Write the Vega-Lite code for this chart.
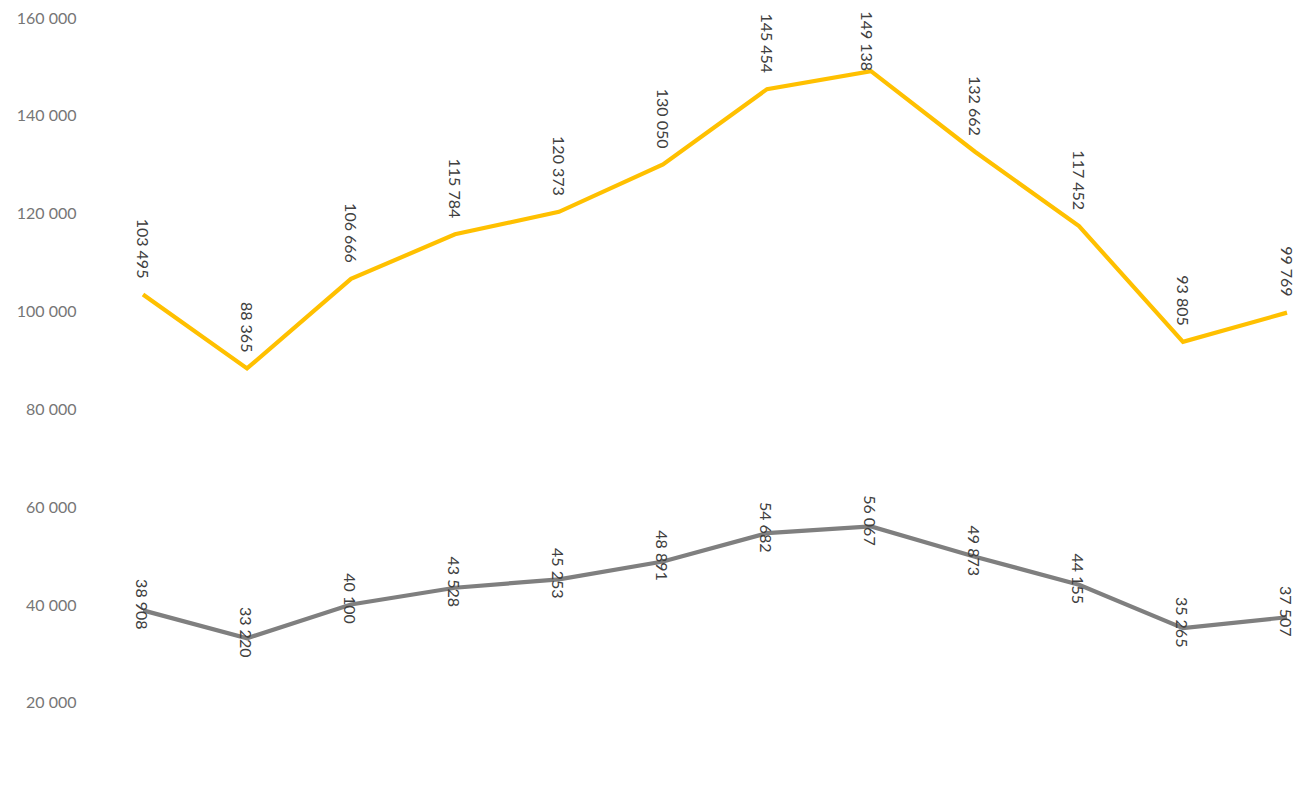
{
  "$schema": "https://vega.github.io/schema/vega-lite/v6.json",
  "width": 1216,
  "height": 777,
  "autosize": {"type": "none"},
  "padding": {"left": 91, "top": 18, "right": 0, "bottom": 0},
  "background": "white",
  "config": {
    "view": {"stroke": null},
    "locale": {"number": {"decimal": ",", "thousands": "\u00a0", "grouping": [3], "currency": ["", "\u00a0€"]}}
  },
  "data": {
    "values": [
      {"i": 1, "series": "A", "value": 103495},
      {"i": 2, "series": "A", "value": 88365},
      {"i": 3, "series": "A", "value": 106666},
      {"i": 4, "series": "A", "value": 115784},
      {"i": 5, "series": "A", "value": 120373},
      {"i": 6, "series": "A", "value": 130050},
      {"i": 7, "series": "A", "value": 145454},
      {"i": 8, "series": "A", "value": 149138},
      {"i": 9, "series": "A", "value": 132662},
      {"i": 10, "series": "A", "value": 117452},
      {"i": 11, "series": "A", "value": 93805},
      {"i": 12, "series": "A", "value": 99769},
      {"i": 1, "series": "B", "value": 38908},
      {"i": 2, "series": "B", "value": 33220},
      {"i": 3, "series": "B", "value": 40100},
      {"i": 4, "series": "B", "value": 43528},
      {"i": 5, "series": "B", "value": 45253},
      {"i": 6, "series": "B", "value": 48891},
      {"i": 7, "series": "B", "value": 54682},
      {"i": 8, "series": "B", "value": 56067},
      {"i": 9, "series": "B", "value": 49873},
      {"i": 10, "series": "B", "value": 44155},
      {"i": 11, "series": "B", "value": 35265},
      {"i": 12, "series": "B", "value": 37507}
    ]
  },
  "encoding": {
    "x": {"field": "i", "type": "quantitative", "scale": {"domain": [0.5, 12.1923], "nice": false, "zero": false}, "axis": null},
    "y": {
      "field": "value", "type": "quantitative",
      "scale": {"domain": [1165, 160000], "nice": false, "zero": false},
      "axis": {
        "values": [20000, 40000, 60000, 80000, 100000, 120000, 140000, 160000],
        "format": ",.0f", "domain": false, "ticks": false, "grid": false,
        "labelFont": "Lato", "labelFontSize": 16, "labelColor": "#767676", "labelPadding": 15, "title": null
      }
    },
    "color": {"field": "series", "type": "nominal", "scale": {"domain": ["A", "B"], "range": ["#FFC000", "#7F7F7F"]}, "legend": null}
  },
  "layer": [
    {"mark": {"type": "line", "strokeWidth": 4.2}},
    {
      "transform": [{"filter": "datum.series === 'A'"}],
      "mark": {"type": "text", "angle": 90, "align": "right", "baseline": "middle", "dx": {"expr": "datum.value > 148000 ? 0 : -16"}, "dy": {"expr": "datum.value > 148000 ? 5 : 1"}, "font": "Lato", "fontSize": 16},
      "encoding": {"text": {"field": "value", "type": "quantitative", "format": ",.0f"}, "color": {"value": "#404040"}}
    },
    {
      "transform": [{"filter": "datum.series === 'B'"}],
      "mark": {"type": "text", "angle": 90, "align": "center", "baseline": "middle", "dx": -6, "dy": 2, "font": "Lato", "fontSize": 16},
      "encoding": {"text": {"field": "value", "type": "quantitative", "format": ",.0f"}, "color": {"value": "#404040"}}
    }
  ]
}
